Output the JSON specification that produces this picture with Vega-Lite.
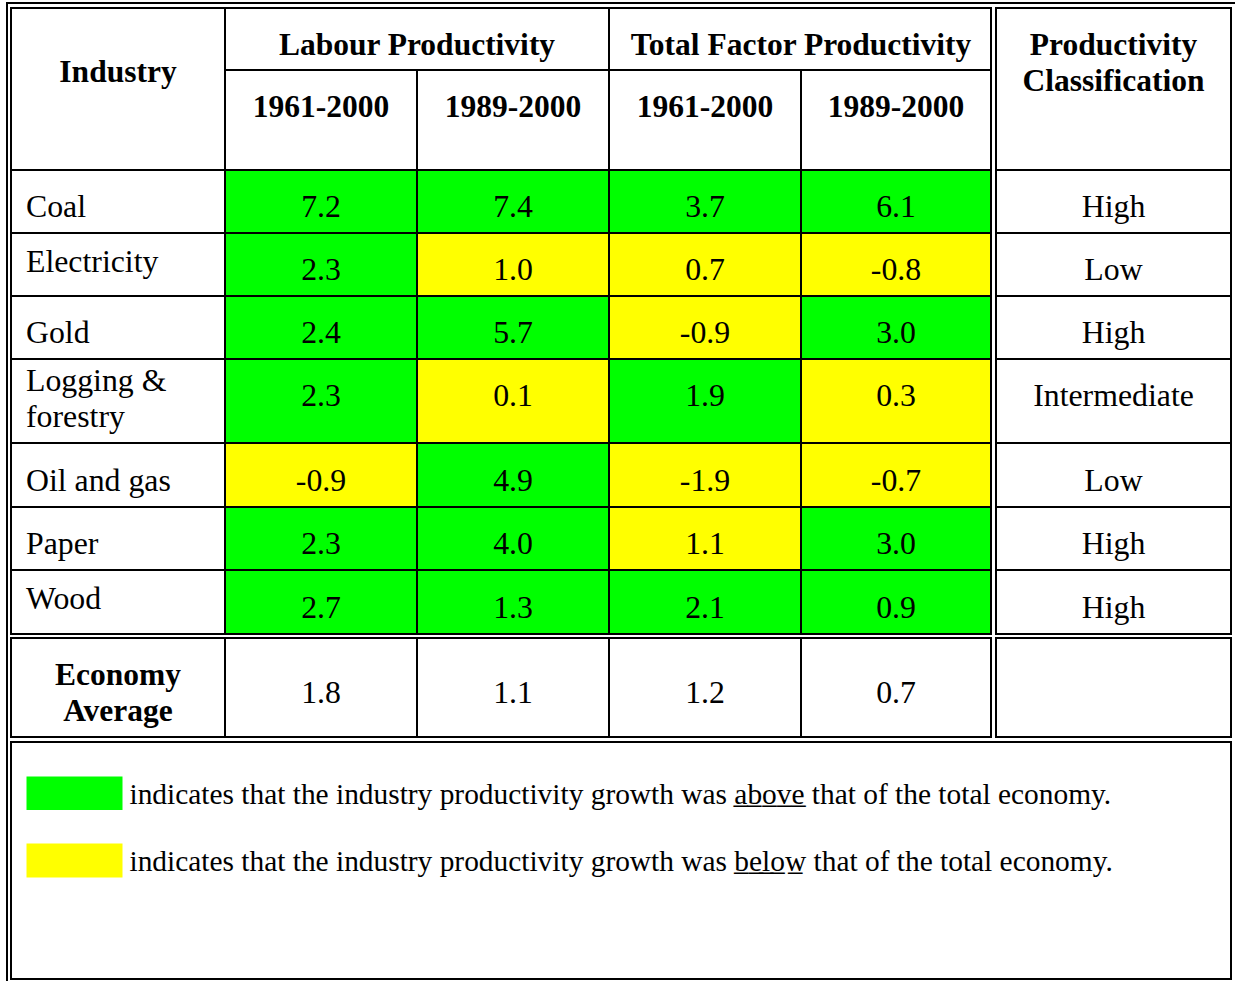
{
  "$schema": "https://vega.github.io/schema/vega-lite/v6.json",
  "width": 1235,
  "height": 981,
  "autosize": "none",
  "padding": 0,
  "background": "white",
  "config": {
    "view": {"stroke": null},
    "locale": {"number": {"decimal": ".", "thousands": ",", "grouping": [3], "currency": ["$", ""], "minus": "-"}},
    "text": {"font": "Liberation Serif", "color": "black"}
  },
  "datasets": {
    "rows": [
      {"industry": "Coal", "label": "Coal", "cls": "High", "r0": 3, "r1": 4, "cy": 3.5, "ny": 3.5},
      {"industry": "Electricity", "label": "Electricity", "cls": "Low", "r0": 4, "r1": 5, "cy": 4.5, "ny": 4.373},
      {"industry": "Gold", "label": "Gold", "cls": "High", "r0": 5, "r1": 6, "cy": 5.5, "ny": 5.5},
      {"industry": "Logging & forestry", "label": "Logging &\nforestry", "cls": "Intermediate", "r0": 6, "r1": 7, "cy": 6.375, "ny": 6.196},
      {"industry": "Oil and gas", "label": "Oil and gas", "cls": "Low", "r0": 7, "r1": 8, "cy": 7.5, "ny": 7.5},
      {"industry": "Paper", "label": "Paper", "cls": "High", "r0": 8, "r1": 9, "cy": 8.5, "ny": 8.5},
      {"industry": "Wood", "label": "Wood", "cls": "High", "r0": 9, "r1": 10, "cy": 9.5, "ny": 9.367},
      {"industry": "Economy Average", "r0": 11, "r1": 12, "cy": 11.5, "ny": 11.5}
    ],
    "cols": [
      {"measure": "LP 1961-2000", "c0": 2, "c1": 3, "cx": 2.5},
      {"measure": "LP 1989-2000", "c0": 3, "c1": 4, "cx": 3.5},
      {"measure": "TFP 1961-2000", "c0": 4, "c1": 5, "cx": 4.5},
      {"measure": "TFP 1989-2000", "c0": 5, "c1": 6, "cx": 5.5}
    ],
    "headers": [
      {"label": "Industry", "c0": 1, "c1": 2, "r0": 1, "r1": 3, "cx": 1.5, "cy": 2.117},
      {"label": "Labour Productivity", "c0": 2, "c1": 4, "r0": 1, "r1": 2, "cx": 3, "cy": 1.758},
      {"label": "Total Factor Productivity", "c0": 4, "c1": 6, "r0": 1, "r1": 2, "cx": 5, "cy": 1.758},
      {"label": "1961-2000", "c0": 2, "c1": 3, "r0": 2, "r1": 3, "cx": 2.5, "cy": 2.473},
      {"label": "1989-2000", "c0": 3, "c1": 4, "r0": 2, "r1": 3, "cx": 3.5, "cy": 2.473},
      {"label": "1961-2000", "c0": 4, "c1": 5, "r0": 2, "r1": 3, "cx": 4.5, "cy": 2.473},
      {"label": "1989-2000", "c0": 5, "c1": 6, "r0": 2, "r1": 3, "cx": 5.5, "cy": 2.473},
      {"label": "Productivity\nClassification", "c0": 7, "c1": 8, "r0": 1, "r1": 3, "cx": 7.5, "cy": 1.758},
      {"label": "Economy\nAverage", "c0": 1, "c1": 2, "r0": 11, "r1": 12, "cx": 1.5, "cy": 11.475},
      {"label": "", "c0": 7, "c1": 8, "r0": 11, "r1": 12, "cx": 7.5, "cy": 11.5}
    ],
    "values": [
      {"industry": "Coal", "measure": "LP 1961-2000", "value": 7.2, "status": "above"},
      {"industry": "Coal", "measure": "LP 1989-2000", "value": 7.4, "status": "above"},
      {"industry": "Coal", "measure": "TFP 1961-2000", "value": 3.7, "status": "above"},
      {"industry": "Coal", "measure": "TFP 1989-2000", "value": 6.1, "status": "above"},
      {"industry": "Electricity", "measure": "LP 1961-2000", "value": 2.3, "status": "above"},
      {"industry": "Electricity", "measure": "LP 1989-2000", "value": 1.0, "status": "below"},
      {"industry": "Electricity", "measure": "TFP 1961-2000", "value": 0.7, "status": "below"},
      {"industry": "Electricity", "measure": "TFP 1989-2000", "value": -0.8, "status": "below"},
      {"industry": "Gold", "measure": "LP 1961-2000", "value": 2.4, "status": "above"},
      {"industry": "Gold", "measure": "LP 1989-2000", "value": 5.7, "status": "above"},
      {"industry": "Gold", "measure": "TFP 1961-2000", "value": -0.9, "status": "below"},
      {"industry": "Gold", "measure": "TFP 1989-2000", "value": 3.0, "status": "above"},
      {"industry": "Logging & forestry", "measure": "LP 1961-2000", "value": 2.3, "status": "above"},
      {"industry": "Logging & forestry", "measure": "LP 1989-2000", "value": 0.1, "status": "below"},
      {"industry": "Logging & forestry", "measure": "TFP 1961-2000", "value": 1.9, "status": "above"},
      {"industry": "Logging & forestry", "measure": "TFP 1989-2000", "value": 0.3, "status": "below"},
      {"industry": "Oil and gas", "measure": "LP 1961-2000", "value": -0.9, "status": "below"},
      {"industry": "Oil and gas", "measure": "LP 1989-2000", "value": 4.9, "status": "above"},
      {"industry": "Oil and gas", "measure": "TFP 1961-2000", "value": -1.9, "status": "below"},
      {"industry": "Oil and gas", "measure": "TFP 1989-2000", "value": -0.7, "status": "below"},
      {"industry": "Paper", "measure": "LP 1961-2000", "value": 2.3, "status": "above"},
      {"industry": "Paper", "measure": "LP 1989-2000", "value": 4.0, "status": "above"},
      {"industry": "Paper", "measure": "TFP 1961-2000", "value": 1.1, "status": "below"},
      {"industry": "Paper", "measure": "TFP 1989-2000", "value": 3.0, "status": "above"},
      {"industry": "Wood", "measure": "LP 1961-2000", "value": 2.7, "status": "above"},
      {"industry": "Wood", "measure": "LP 1989-2000", "value": 1.3, "status": "above"},
      {"industry": "Wood", "measure": "TFP 1961-2000", "value": 2.1, "status": "above"},
      {"industry": "Wood", "measure": "TFP 1989-2000", "value": 0.9, "status": "above"},
      {"industry": "Economy Average", "measure": "LP 1961-2000", "value": 1.8, "status": "average"},
      {"industry": "Economy Average", "measure": "LP 1989-2000", "value": 1.1, "status": "average"},
      {"industry": "Economy Average", "measure": "TFP 1961-2000", "value": 1.2, "status": "average"},
      {"industry": "Economy Average", "measure": "TFP 1989-2000", "value": 0.7, "status": "average"}
    ],
    "legend": [
      {"status": "above", "text": "indicates that the industry productivity growth was a\u0332b\u0332o\u0332v\u0332e\u0332 that of the total economy.", "y0": 0, "y1": 1, "ty": 0.5},
      {"status": "below", "text": "indicates that the industry productivity growth was b\u0332e\u0332l\u0332o\u0332w\u0332 that of the total economy.", "y0": 2, "y1": 3, "ty": 2.5}
    ]
  },
  "layer": [
    {
      "layer": [
        {
          "data": {"values": [{}]},
          "mark": {"type": "rect", "fillOpacity": 0, "stroke": "black", "strokeWidth": 2},
          "encoding": {
            "x": {"datum": 0, "type": "quantitative", "axis": null, "scale": {"domain": [0,1,2,3,4,5,6,7,8,9], "range": [7,11,225,417,609,801,991,996,1231,1238], "zero": false, "nice": false}},
            "x2": {"datum": 9},
            "y": {"datum": 0, "type": "quantitative", "axis": null, "scale": {"domain": [0,1,2,3,4,5,6,7,8,9,10,11,12,13,14,15], "range": [3,8,70,170,233,296,359,443,507,570,634,638,737,742,979,984], "zero": false, "nice": false}},
            "y2": {"datum": 15}
          }
        },
        {
          "data": {"values": [{}]},
          "mark": {"type": "rect", "fill": "white", "stroke": "black", "strokeWidth": 2},
          "encoding": {
            "x": {"datum": 1, "type": "quantitative", "axis": null, "scale": {"domain": [0,1,2,3,4,5,6,7,8,9], "range": [7,11,225,417,609,801,991,996,1231,1238], "zero": false, "nice": false}},
            "x2": {"datum": 8},
            "y": {"datum": 13, "type": "quantitative", "axis": null, "scale": {"domain": [0,1,2,3,4,5,6,7,8,9,10,11,12,13,14,15], "range": [3,8,70,170,233,296,359,443,507,570,634,638,737,742,979,984], "zero": false, "nice": false}},
            "y2": {"datum": 14}
          }
        },
        {
          "data": {"name": "headers"},
          "mark": {"type": "rect", "fill": "white", "stroke": "black", "strokeWidth": 2},
          "encoding": {
            "x": {"field": "c0", "type": "quantitative", "axis": null, "scale": {"domain": [0,1,2,3,4,5,6,7,8,9], "range": [7,11,225,417,609,801,991,996,1231,1238], "zero": false, "nice": false}},
            "x2": {"field": "c1"},
            "y": {"field": "r0", "type": "quantitative", "axis": null, "scale": {"domain": [0,1,2,3,4,5,6,7,8,9,10,11,12,13,14,15], "range": [3,8,70,170,233,296,359,443,507,570,634,638,737,742,979,984], "zero": false, "nice": false}},
            "y2": {"field": "r1"}
          }
        },
        {
          "data": {"name": "headers"},
          "mark": {"type": "text", "align": "center", "baseline": "alphabetic", "fontSize": 31.5, "fontWeight": "bold", "font": "Liberation Serif", "lineBreak": "\n", "lineHeight": 36},
          "encoding": {
            "x": {"field": "cx", "type": "quantitative", "axis": null, "scale": {"domain": [0,1,2,3,4,5,6,7,8,9], "range": [7,11,225,417,609,801,991,996,1231,1238], "zero": false, "nice": false}},
            "y": {"field": "cy", "type": "quantitative", "axis": null, "scale": {"domain": [0,1,2,3,4,5,6,7,8,9,10,11,12,13,14,15], "range": [3,8,70,170,233,296,359,443,507,570,634,638,737,742,979,984], "zero": false, "nice": false}},
            "text": {"field": "label", "type": "nominal"}
          }
        },
        {
          "data": {"name": "values"},
          "transform": [
            {"lookup": "industry", "from": {"data": {"name": "rows"}, "key": "industry", "fields": ["r0", "r1", "cy"]}},
            {"lookup": "measure", "from": {"data": {"name": "cols"}, "key": "measure", "fields": ["c0", "c1", "cx"]}}
          ],
          "layer": [
            {
              "mark": {"type": "rect", "stroke": "black", "strokeWidth": 2},
              "encoding": {
                "x": {"field": "c0", "type": "quantitative", "axis": null, "scale": {"domain": [0,1,2,3,4,5,6,7,8,9], "range": [7,11,225,417,609,801,991,996,1231,1238], "zero": false, "nice": false}},
                "x2": {"field": "c1"},
                "y": {"field": "r0", "type": "quantitative", "axis": null, "scale": {"domain": [0,1,2,3,4,5,6,7,8,9,10,11,12,13,14,15], "range": [3,8,70,170,233,296,359,443,507,570,634,638,737,742,979,984], "zero": false, "nice": false}},
                "y2": {"field": "r1"},
                "color": {"field": "status", "type": "nominal", "legend": null, "scale": {"domain": ["above", "below", "average"], "range": ["#00ff00", "#ffff00", "#ffffff"]}}
              }
            },
            {
              "mark": {"type": "text", "align": "center", "baseline": "alphabetic", "dy": 15.5, "fontSize": 31.8, "font": "Liberation Serif"},
              "encoding": {
                "x": {"field": "cx", "type": "quantitative", "axis": null, "scale": {"domain": [0,1,2,3,4,5,6,7,8,9], "range": [7,11,225,417,609,801,991,996,1231,1238], "zero": false, "nice": false}},
                "y": {"field": "cy", "type": "quantitative", "axis": null, "scale": {"domain": [0,1,2,3,4,5,6,7,8,9,10,11,12,13,14,15], "range": [3,8,70,170,233,296,359,443,507,570,634,638,737,742,979,984], "zero": false, "nice": false}},
                "text": {"field": "value", "type": "quantitative", "format": ".1f"}
              }
            }
          ]
        },
        {
          "data": {"name": "rows"},
          "transform": [{"filter": "isValid(datum.cls)"}],
          "layer": [
            {
              "mark": {"type": "rect", "fill": "white", "stroke": "black", "strokeWidth": 2},
              "encoding": {
                "x": {"datum": 1, "type": "quantitative", "axis": null, "scale": {"domain": [0,1,2,3,4,5,6,7,8,9], "range": [7,11,225,417,609,801,991,996,1231,1238], "zero": false, "nice": false}},
                "x2": {"datum": 2},
                "y": {"field": "r0", "type": "quantitative", "axis": null, "scale": {"domain": [0,1,2,3,4,5,6,7,8,9,10,11,12,13,14,15], "range": [3,8,70,170,233,296,359,443,507,570,634,638,737,742,979,984], "zero": false, "nice": false}},
                "y2": {"field": "r1"}
              }
            },
            {
              "mark": {"type": "rect", "fill": "white", "stroke": "black", "strokeWidth": 2},
              "encoding": {
                "x": {"datum": 7, "type": "quantitative", "axis": null, "scale": {"domain": [0,1,2,3,4,5,6,7,8,9], "range": [7,11,225,417,609,801,991,996,1231,1238], "zero": false, "nice": false}},
                "x2": {"datum": 8},
                "y": {"field": "r0", "type": "quantitative", "axis": null, "scale": {"domain": [0,1,2,3,4,5,6,7,8,9,10,11,12,13,14,15], "range": [3,8,70,170,233,296,359,443,507,570,634,638,737,742,979,984], "zero": false, "nice": false}},
                "y2": {"field": "r1"}
              }
            },
            {
              "mark": {"type": "text", "align": "left", "baseline": "alphabetic", "dx": 15, "dy": 15.5, "fontSize": 31.8, "font": "Liberation Serif", "lineBreak": "\n", "lineHeight": 36},
              "encoding": {
                "x": {"datum": 1, "type": "quantitative", "axis": null, "scale": {"domain": [0,1,2,3,4,5,6,7,8,9], "range": [7,11,225,417,609,801,991,996,1231,1238], "zero": false, "nice": false}},
                "y": {"field": "ny", "type": "quantitative", "axis": null, "scale": {"domain": [0,1,2,3,4,5,6,7,8,9,10,11,12,13,14,15], "range": [3,8,70,170,233,296,359,443,507,570,634,638,737,742,979,984], "zero": false, "nice": false}},
                "text": {"field": "label", "type": "nominal"}
              }
            },
            {
              "mark": {"type": "text", "align": "center", "baseline": "alphabetic", "dy": 15.5, "fontSize": 31.8, "font": "Liberation Serif"},
              "encoding": {
                "x": {"datum": 7.5, "type": "quantitative", "axis": null, "scale": {"domain": [0,1,2,3,4,5,6,7,8,9], "range": [7,11,225,417,609,801,991,996,1231,1238], "zero": false, "nice": false}},
                "y": {"field": "cy", "type": "quantitative", "axis": null, "scale": {"domain": [0,1,2,3,4,5,6,7,8,9,10,11,12,13,14,15], "range": [3,8,70,170,233,296,359,443,507,570,634,638,737,742,979,984], "zero": false, "nice": false}},
                "text": {"field": "cls", "type": "nominal"}
              }
            }
          ]
        }
      ]
    },
    {
      "data": {"name": "legend"},
      "layer": [
        {
          "mark": {"type": "rect"},
          "encoding": {
            "x": {"datum": 0, "type": "quantitative", "axis": null, "scale": {"domain": [0,1,2], "range": [26.5,122.5,129.5], "zero": false, "nice": false}},
            "x2": {"datum": 1},
            "y": {"field": "y0", "type": "quantitative", "axis": null, "scale": {"domain": [0,1,2,3], "range": [776.5,810,843.5,877.5], "zero": false, "nice": false}},
            "y2": {"field": "y1"},
            "color": {"field": "status", "type": "nominal", "legend": null, "scale": {"domain": ["above", "below", "average"], "range": ["#00ff00", "#ffff00", "#ffffff"]}}
          }
        },
        {
          "mark": {"type": "text", "align": "left", "baseline": "alphabetic", "dy": 10.5, "fontSize": 29.4, "font": "Liberation Serif"},
          "encoding": {
            "x": {"datum": 2, "type": "quantitative", "axis": null, "scale": {"domain": [0,1,2], "range": [26.5,122.5,129.5], "zero": false, "nice": false}},
            "y": {"field": "ty", "type": "quantitative", "axis": null, "scale": {"domain": [0,1,2,3], "range": [776.5,810,843.5,877.5], "zero": false, "nice": false}},
            "text": {"field": "text", "type": "nominal"}
          }
        }
      ]
    }
  ],
  "resolve": {"scale": {"x": "independent", "y": "independent"}}
}
